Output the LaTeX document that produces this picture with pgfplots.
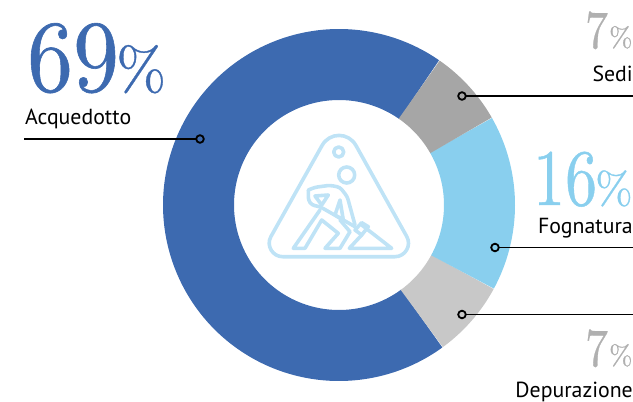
\documentclass[border=0pt]{standalone}
\usepackage{pgfplots}
\usepackage{fontspec}
\pgfplotsset{compat=1.18}
\newfontfamily\labelfont{PT Sans}
\newfontfamily\numfont[FakeBold=0.6]{lmroman10-regular.otf}
\definecolor{acq}{HTML}{3D6AB0}
\definecolor{sedi}{HTML}{A6A6A6}
\definecolor{fogn}{HTML}{89CFEE}
\definecolor{depu}{HTML}{C8C8C8}
\definecolor{numgray}{HTML}{B0B0B0}
\definecolor{icon}{HTML}{BFE3F6}
% Shares of the four sectors, in per cent
\def\vAcq{69}\def\vSedi{7}\def\vFogn{16}\def\vDepu{7}
\pgfmathsetmacro\tot{\vAcq+\vSedi+\vFogn+\vDepu}
\pgfmathsetmacro\aA{55.2}
\pgfmathsetmacro\aB{\aA+\vAcq/\tot*360}
\pgfmathsetmacro\aC{\aB+\vDepu/\tot*360}
\pgfmathsetmacro\aD{\aC+\vFogn/\tot*360}
\pgfmathsetmacro\aE{\aD+\vSedi/\tot*360}
\begin{document}
\begin{tikzpicture}
\path[use as bounding box,clip] (0,0) rectangle (633pt,402pt);
\begin{axis}[
  at={(0,0)},anchor=south west,
  scale only axis,width=633pt,height=402pt,
  xmin=0,xmax=633,ymin=0,ymax=402,y dir=reverse,
  hide axis,clip=false,
]
% Donut ring, one thick arc per sector
\addplot[acq,line width=71pt,domain=\aA:\aB,samples=120,smooth] ({339+140.5*cos(x)},{205-140.5*sin(x)});
\addplot[depu,line width=71pt,domain=\aB:\aC,samples=30,smooth] ({339+140.5*cos(x)},{205-140.5*sin(x)});
\addplot[fogn,line width=71pt,domain=\aC:\aD,samples=40,smooth] ({339+140.5*cos(x)},{205-140.5*sin(x)});
\addplot[sedi,line width=71pt,domain=\aD:\aE,samples=30,smooth] ({339+140.5*cos(x)},{205-140.5*sin(x)});
% Leader lines
\addplot[black,line width=1.8pt] coordinates {(24,139) (196,139)};
\addplot[black,line width=1.8pt] coordinates {(466,96) (640,96)};
\addplot[black,line width=1.8pt] coordinates {(499,247.5) (640,247.5)};
\addplot[black,line width=1.8pt] coordinates {(466,314.5) (640,314.5)};
\addplot[only marks,mark=o,mark size=3.8pt,mark options={line width=1.8pt,black}] coordinates {(200,139) (462,96) (495,247.5) (462,314.5)};
% Worker sign in the middle of the ring
\begin{scope}[icon,line width=3.6pt,line join=round,line cap=round]
\draw (axis cs:322,145.6) .. controls (axis cs:329.5,132) and (axis cs:348.5,132) .. (axis cs:356,145.6)
  -- (axis cs:406.8,236.6) .. controls (axis cs:411.8,245.5) and (axis cs:405.2,256.7) .. (axis cs:395,256.7)
  -- (axis cs:282.7,256.7) .. controls (axis cs:272.5,256.7) and (axis cs:265.9,245.5) .. (axis cs:270.9,236.6)
  -- cycle;
\draw (axis cs:338.7,152) circle[radius=5pt];
\draw (axis cs:346.7,175) circle[radius=8pt];
\draw[rounded corners=3pt] (axis cs:308.3,190) -- (axis cs:315,187.3) -- (axis cs:330,185.3) -- (axis cs:340,187.3) -- (axis cs:347.3,196.7) -- (axis cs:355,225);
\draw[rounded corners=3pt] (axis cs:308.3,190) -- (axis cs:308.3,200) -- (axis cs:311.7,205) -- (axis cs:320,206.7) -- (axis cs:355,226.7);
\draw (axis cs:315,196) -- (axis cs:328.3,195) -- (axis cs:321.7,205) -- cycle;
\draw (axis cs:340,200) -- (axis cs:335,215) -- (axis cs:343.3,220) -- cycle;
\draw (axis cs:320,210) -- (axis cs:293.3,248.3) -- (axis cs:305,248.3) -- (axis cs:321.7,220) -- (axis cs:338.3,233.3) -- (axis cs:325,248.3) -- (axis cs:340,248.3) -- (axis cs:350,231.7) -- (axis cs:340,220);
\draw (axis cs:355,230) -- (axis cs:361.7,222.7) -- (axis cs:368.3,226.7) -- (axis cs:361.7,235) -- cycle;
\draw (axis cs:361.7,225) -- (axis cs:391.7,248.3) -- (axis cs:349.3,248.3) -- (axis cs:361.7,235);
\end{scope}
% Category names
\node[anchor=base west,inner sep=0] at (axis cs:25,124.5) {\labelfont\fontsize{21.8}{22}\selectfont Acquedotto};
\node[anchor=base east,inner sep=0] at (axis cs:633,81) {\labelfont\fontsize{21.8}{22}\selectfont Sedi};
\node[anchor=base east,inner sep=0] at (axis cs:633,233) {\labelfont\fontsize{21.8}{22}\selectfont Fognatura};
\node[anchor=base east,inner sep=0] at (axis cs:633,397) {\labelfont\fontsize{21.8}{22}\selectfont Depurazione};
% Percentages
\node[anchor=base west,inner sep=0,text=acq,xscale=.9] at (axis cs:27,91) {\numfont\fontsize{102}{102}\selectfont 69};
\node[anchor=base west,inner sep=0,text=acq] at (axis cs:116,90) {\numfont\fontsize{60}{60}\selectfont\%};
\node[anchor=base west,inner sep=0,text=fogn,xscale=.8] at (axis cs:533,205) {\numfont\fontsize{80}{80}\selectfont 16};
\node[anchor=base west,inner sep=0,text=fogn] at (axis cs:595,204) {\numfont\fontsize{45}{45}\selectfont\%};
\node[anchor=base west,inner sep=0,text=numgray,xscale=.85] at (axis cs:585,48) {\numfont\fontsize{54}{54}\selectfont 7};
\node[anchor=base west,inner sep=0,text=numgray] at (axis cs:609,47) {\numfont\fontsize{28}{28}\selectfont\%};
\node[anchor=base west,inner sep=0,text=numgray,xscale=.85] at (axis cs:585,366) {\numfont\fontsize{54}{54}\selectfont 7};
\node[anchor=base west,inner sep=0,text=numgray] at (axis cs:609,365) {\numfont\fontsize{28}{28}\selectfont\%};
\end{axis}
\end{tikzpicture}
\end{document}
